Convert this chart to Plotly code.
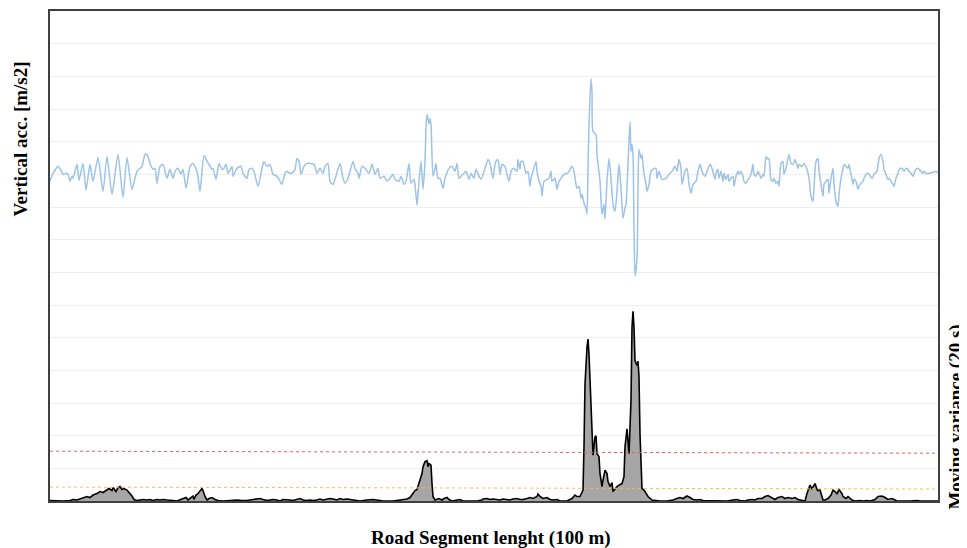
import plotly.graph_objects as go

# ---- Vertical acceleration (m/s2), sample index along the 100 m road segment ----
acc_x_1 = [0,3,5,8,11,13,16,18,20,22,23,27,29,33,36,40,43,48,53,57,62,68,73,77,82,87,92,95,97,100,
           103,105,107,110,113,117,120,123,125,128,131,133,136,140,143,147,150,154,157,159,162,163,166,169,172,174,176,178,182,183,
           187,191,193,197,199,202,204,208,212,214,217,220,223]
acc_v_1 = [-0.07,0.01,0.04,0.08,0.04,0.00,0.01,0.00,-0.07,-0.02,-0.04,0.10,-0.06,0.11,-0.16,0.10,-0.07,0.17,-0.17,0.18,
           -0.20,0.20,-0.23,0.17,-0.15,0.03,0.08,0.20,0.20,0.11,0.05,0.06,-0.09,0.08,0.10,-0.04,0.05,-0.04,0.03,0.06,
           0.00,0.05,-0.14,0.08,0.11,0.03,-0.17,0.19,0.13,0.10,0.05,0.06,-0.05,0.11,0.05,0.06,0.10,0.01,0.08,-0.02,
           0.06,0.08,0.01,-0.04,0.05,0.06,0.03,-0.12,0.06,0.13,0.08,0.10,0.00]

acc_x_2 = [227,229,232,235,237,240,243,245,247,249,251,254,257,260,264,267,270,273,275,278,
           280,283,285,290,293,295,298,303,305,308,309,312,315,319,322,325,328,330,334,337,
           340,343,345,349,351,354,356,359,361,364,365,367,369,371,373,375,376,377,379,380,
           381,383,385,386,388,390,393,395,399,402,405,407,409,411,414,416,419,421,424,426,
           429,431,435,438,440,443,445]
acc_v_2 = [-0.02,-0.05,-0.10,0.01,0.03,0.01,0.02,0.05,0.16,0.13,0.00,0.08,0.11,0.11,0.10,0.01,0.06,0.01,0.08,0.11,
           -0.07,-0.10,-0.05,0.11,-0.04,-0.09,-0.04,0.13,0.06,0.01,-0.04,0.08,0.06,0.01,0.10,0.00,0.06,-0.04,-0.02,-0.07,
           -0.04,0.00,-0.05,-0.07,-0.02,-0.10,-0.07,0.11,-0.09,-0.05,-0.10,-0.31,-0.07,0.13,-0.15,0.13,0.46,0.60,0.51,0.56,
           0.50,-0.02,0.06,0.11,-0.04,-0.04,-0.14,-0.04,0.06,0.08,0.03,0.11,-0.04,-0.02,0.01,0.03,-0.05,0.01,-0.04,0.05,
           -0.02,-0.05,0.06,0.15,0.11,-0.04,0.10]

acc_x_3 = [446,448,450,452,455,457,459,461,463,465,467,468,470,471,473,476,478,480,481,483,
           486,487,489,491,492,494,497,499,501,502,505,507,509,511,514,517,519,522,524,526,
           527,529,531,532,534,536,537,538,539,541,542,543,546,547,550,552,554,555,557,559,
           561,563,565,567,569,571,573,575,576,578,580,581,582,583,584,585,587,588,589,591,
           592,594,596,597,599,601,603,606,607,609,612,616,619,622,625,627,629,631,632,635,
           637,639,641,643,646,648,650,652,655,657,660,662,665]
acc_v_3 = [0.13,0.15,0.00,0.10,0.08,0.00,-0.07,0.03,0.06,0.05,0.03,0.15,0.05,0.13,0.13,0.01,0.03,-0.12,-0.04,0.03,
           0.13,0.03,-0.07,-0.12,-0.22,-0.07,-0.05,-0.04,0.03,-0.07,-0.04,-0.15,-0.07,-0.04,0.00,0.01,0.03,0.08,0.03,-0.10,
           -0.14,-0.12,-0.24,-0.20,-0.29,-0.34,-0.40,0.06,0.50,0.96,0.83,0.43,0.40,0.20,-0.07,-0.40,-0.30,-0.45,-0.07,0.16,
           -0.04,-0.30,-0.37,-0.17,0.10,-0.14,-0.44,-0.34,-0.30,0.10,0.53,0.23,0.30,0.20,-0.54,-1.02,-0.84,-0.14,0.25,0.16,
           0.20,0.00,-0.10,-0.17,-0.10,0.03,0.05,0.06,-0.04,0.03,-0.05,-0.04,0.00,0.03,0.08,0.03,0.15,0.06,-0.10,0.03,
           0.06,-0.10,-0.19,-0.10,-0.07,0.03,0.10,0.03,-0.02,0.03,0.10,0.06,-0.05]

acc_x_4 = [666,668,669,671,673,674,676,678,679,681,683,684,686,688,689,691,693,694,696,698,
           699,701,703,704,706,708,709,711,713,714,716,718,719,721,723,724,726,728,729,731,
           733,734,736,739,741,743,745,748,749,752,754,757,759,761,763,764,766,768,769,771,
           773,774,776,778,779,781,783,784,786,788,789,791,793,794,796,798,799,801,803,804,
           806,808,809,811,813,814,816,818,819,822,824,827,829,831,833,834,836,838,839,841,
           843,844,846,848,849,851,853,854,856,858,859,861,863,864,866,868,869,871,873,874,
           876,879,883,886,888]
acc_v_4 = [0.01,0.05,-0.04,0.03,-0.07,0.01,-0.05,0.00,-0.07,-0.04,-0.02,-0.12,-0.02,0.03,0.00,0.03,-0.02,-0.07,-0.09,-0.05,
           -0.04,0.00,0.10,0.00,-0.02,0.03,0.01,-0.04,0.00,-0.02,0.18,0.15,0.16,-0.05,-0.07,-0.04,-0.09,-0.07,-0.12,0.11,
           0.13,0.00,0.06,0.20,0.11,0.10,0.15,0.06,0.10,0.08,0.11,0.05,-0.04,-0.22,-0.27,-0.14,0.13,0.16,0.03,-0.10,
           -0.22,-0.10,-0.07,-0.05,-0.19,-0.04,0.06,-0.10,-0.27,-0.32,-0.20,-0.04,0.06,0.10,0.08,0.06,0.10,0.00,-0.10,-0.05,
           -0.07,-0.15,-0.12,-0.09,-0.07,-0.04,0.00,0.01,0.00,-0.04,0.00,0.03,0.16,0.20,0.13,0.05,0.00,-0.05,-0.04,-0.07,
           -0.10,-0.12,-0.04,0.01,0.05,0.06,0.05,0.03,0.06,0.05,0.03,0.01,-0.02,0.01,0.05,0.06,0.05,0.03,0.01,0.03,
           0.01,0.01,0.02,0.03,0.01]

# ---- Moving variance (20 s) ----
var_x_1 = [0,7,13,20,23,27,30,33,37,40,43,47,50,53,57,59,62,63,66,68,
           70,72,74,77,79,82,84,87,90,93,97,100,103,107,110,113,117,120,123,127,
           130,133,136,138,140,143,144,146,148,150,152,153,155,157,159,162,165,168,173,180,
           187,192,197,203,207,210,213,217,220,223,227,230,233,237,240,243,247,250,253,257,
           260,263,267,270,273,277,280,283,287,290,293,297]
var_v_1 = [0.01,0.00,0.00,0.01,0.03,0.02,0.04,0.07,0.09,0.07,0.12,0.15,0.19,0.17,0.22,0.25,0.21,0.27,0.19,0.27,
           0.29,0.23,0.25,0.22,0.17,0.10,0.03,0.01,0.02,0.03,0.02,0.03,0.01,0.03,0.02,0.03,0.02,0.02,0.01,0.00,
           0.02,0.05,0.07,0.02,0.05,0.10,0.03,0.12,0.15,0.19,0.25,0.21,0.09,0.02,0.05,0.07,0.03,0.01,0.00,0.01,
           0.02,0.01,0.01,0.03,0.05,0.05,0.03,0.01,0.02,0.03,0.02,0.00,0.03,0.03,0.02,0.01,0.03,0.05,0.02,0.01,
           0.02,0.01,0.02,0.04,0.02,0.03,0.05,0.04,0.02,0.05,0.03,0.04]

var_x_2 = [303,307,310,317,323,330,333,343,353,357,360,363,365,367,368,370,372,373,375,377,
           378,379,381,382,383,385,387,389,392,394,397,399,402,407,410,413,427,432,433,437,
           440,443,447,450,453,457,460,463,467,470,473,477,480,483,487,488,490,493,497,500,
           503,507,510,517,522,525,527,530,533,534,535,537,538,539,541,542,543,545,546,547,
           549,550,552,553,555,557,558,560,562,563,565,567,569,572,574,575,577,578,579,581,
           582,583,584,585,587,588,589,590,591,592,594,596,598,602,607]
var_v_2 = [0.02,0.01,0.00,0.02,0.03,0.01,0.00,0.00,0.02,0.04,0.07,0.15,0.21,0.23,0.29,0.42,0.55,0.69,0.79,0.81,
           0.69,0.75,0.72,0.35,0.09,0.02,0.03,0.05,0.02,0.05,0.07,0.03,0.00,0.02,0.03,0.00,0.00,0.02,0.04,0.05,
           0.03,0.04,0.03,0.02,0.04,0.03,0.02,0.04,0.05,0.03,0.03,0.05,0.07,0.05,0.09,0.14,0.09,0.05,0.07,0.03,
           0.02,0.03,0.00,0.00,0.05,0.12,0.09,0.09,0.22,1.09,2.35,3.09,3.25,2.95,2.09,1.35,0.92,1.29,1.31,0.95,
           0.89,0.55,0.29,0.42,0.62,0.55,0.39,0.29,0.37,0.19,0.25,0.29,0.32,0.35,0.49,1.09,1.45,1.22,0.95,2.02,
           3.49,3.81,3.49,2.82,2.72,2.81,2.49,1.35,0.55,0.25,0.22,0.15,0.09,0.02,0.00]

var_x_3 = [610,617,623,627,630,633,637,640,643,647,650,653,657,660,663,667,670,677,683,687,
           690,695,698,702,705,708,712,715,718,722,725,728,732,735,738,742,745,748,752,755,
           757,758,760,762,763,765,767,768,770,773,775,778,781,783,785,787,789,792,793,796,
           798,802,805,810,813,817,820,825,828,832,835,838,842,845,847,860,863,867,870,888]
var_v_3 = [0.00,0.00,0.02,0.05,0.07,0.05,0.10,0.07,0.03,0.02,0.03,0.01,0.01,0.00,0.01,0.00,0.01,0.00,0.02,0.03,
           0.01,0.00,0.02,0.03,0.02,0.05,0.05,0.09,0.11,0.07,0.03,0.07,0.09,0.05,0.07,0.05,0.07,0.03,0.01,0.00,
           0.15,0.22,0.32,0.25,0.29,0.35,0.23,0.21,0.22,0.02,0.02,0.05,0.12,0.22,0.19,0.15,0.23,0.15,0.09,0.05,
           0.09,0.02,0.00,0.01,0.00,0.01,0.00,0.03,0.09,0.10,0.07,0.03,0.05,0.02,0.00,0.00,0.01,0.01,0.00,0.00]

# ---- Threshold levels on the moving-variance axis ----
thr_x = [0, 888]
red_thr = [1.00, 0.96]
yellow_thr = [0.28, 0.24]

for a, b in [(acc_x_1, acc_v_1), (acc_x_2, acc_v_2), (acc_x_3, acc_v_3), (acc_x_4, acc_v_4),
             (var_x_1, var_v_1), (var_x_2, var_v_2), (var_x_3, var_v_3)]:
    assert len(a) == len(b), (len(a), len(b))

acc_x = acc_x_1 + acc_x_2 + acc_x_3 + acc_x_4
acc_v = acc_v_1 + acc_v_2 + acc_v_3 + acc_v_4
var_x = var_x_1 + var_x_2 + var_x_3
var_v = var_v_1 + var_v_2 + var_v_3

fig = go.Figure()
fig.add_trace(go.Scatter(x=acc_x, y=acc_v, mode="lines", yaxis="y",
                         line=dict(color="#9dc3e6", width=1.5, shape="spline", smoothing=0.6),
                         showlegend=False))
fig.add_trace(go.Scatter(x=var_x, y=var_v, mode="lines", yaxis="y2", fill="tozeroy",
                         fillcolor="#a6a6a6", line=dict(color="#000000", width=1.6),
                         showlegend=False))
fig.add_trace(go.Scatter(x=thr_x, y=red_thr, mode="lines", yaxis="y2",
                         line=dict(color="#e06060", width=1, dash="dot"), showlegend=False))
fig.add_trace(go.Scatter(x=thr_x, y=yellow_thr, mode="lines", yaxis="y2",
                         line=dict(color="#f3c14a", width=1, dash="dot"), showlegend=False))

title_font = dict(family="Liberation Serif", size=19, color="#000000")

# The page body has an 8 px margin, so the figure is made 8 px smaller
# and the plot area lands at x 50..938, y 9..501 of the window.
fig.update_layout(
    width=959, height=540, autosize=False,
    margin=dict(l=42, r=29, t=1, b=47, pad=0),
    paper_bgcolor="white", plot_bgcolor="white",
    xaxis=dict(range=[0, 888], showgrid=False, zeroline=False, showticklabels=False, ticks="",
               showline=True, linecolor="#404040", linewidth=1.5, mirror=True),
    yaxis=dict(range=[-3.28, 1.64], tick0=0, dtick=0.328, showgrid=True, gridcolor="#eeeeee",
               gridwidth=1, zeroline=False, showticklabels=False, ticks="",
               showline=True, linecolor="#404040", linewidth=1.5, mirror=True),
    yaxis2=dict(range=[0, 9.84], overlaying="y", side="right", showgrid=False, zeroline=False,
                showticklabels=False, ticks="", showline=False),
    annotations=[
        dict(text="<b>Vertical acc. [m/s2]</b>", xref="paper", yref="paper", x=-0.0338, y=0.74,
             xanchor="center", yanchor="middle", textangle=-90, showarrow=False, font=title_font),
        dict(text="<b>Road Segment lenght (100 m)</b>", xref="paper", yref="paper", x=0.4966, y=-0.0752,
             xanchor="center", yanchor="middle", showarrow=False, font=title_font),
        dict(text="<b>Moving variance (20 s)</b>", xref="paper", yref="paper", x=1.0205, y=0.1707,
             xanchor="center", yanchor="middle", textangle=-90, showarrow=False, font=title_font),
    ],
)

fig.write_html("out.html")
